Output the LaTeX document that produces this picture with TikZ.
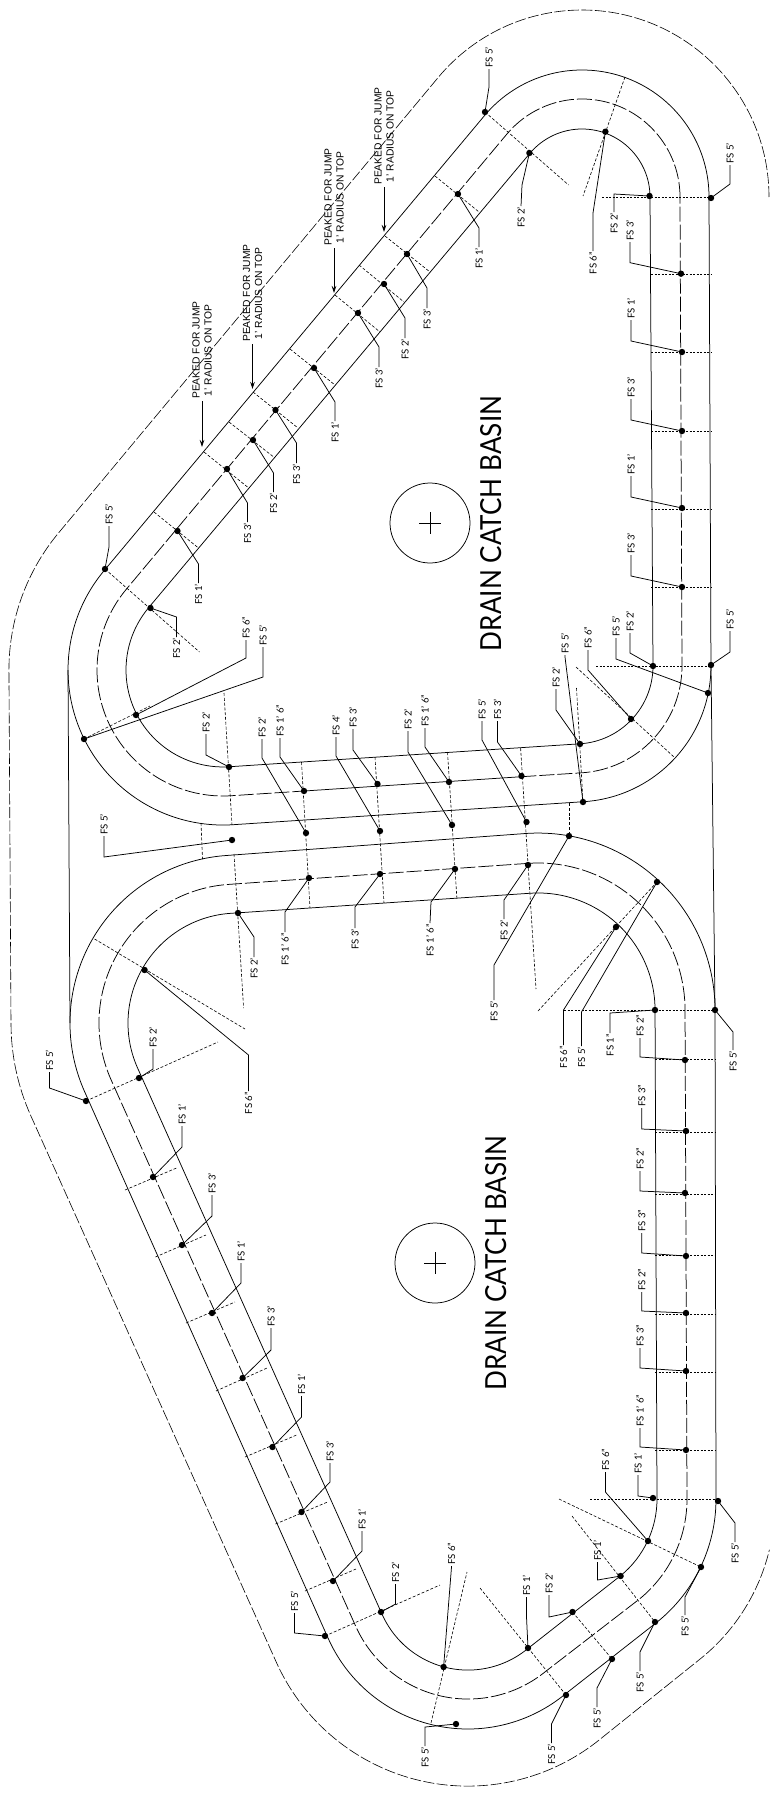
\documentclass[tikz,border=0pt]{standalone}
\usepackage{fontspec}
\setmainfont{Lato}
\newfontfamily\arialf{Liberation Sans}
\newfontfamily\titlef[FakeStretch=0.9]{Lato}
\usetikzlibrary{arrows.meta}
\newcount\ldn
\tikzset{
 trk/.style={line width=0.75pt,black},
 middash/.style={line width=0.75pt,black,dash pattern=on 15pt off 3pt},
 bound/.style={line width=0.6pt,black,dash pattern=on 11pt off 2.5pt},
 sec/.style={line width=0.6pt,black,dash pattern=on 3pt off 1.8pt},
 sech/.style={line width=0.8pt,black,dash pattern=on 2.2pt off 1.3pt},
 lead/.style={line width=0.75pt,black},
 fsdot/.style={circle,fill=black,inner sep=0pt,minimum size=6.4pt},
 fslab/.style={rotate=90,inner sep=1pt,font=\fontsize{9.6}{11}\selectfont},
 peak/.style={rotate=90,anchor=west,align=center,inner sep=2pt,font=\arialf\fontsize{10.3}{12}\selectfont},
 title/.style={rotate=90,inner sep=0pt,font=\titlef\fontsize{29}{31}\selectfont},
 pit/.style={circle,draw=black,line width=0.75pt,minimum size=80pt,inner sep=0pt},
 jump/.style={line width=0.75pt,black,-{Stealth[length=7pt,width=4.5pt]}},
}
% dot; bend; stub end; text. text below the stub end
\newcommand\fsdn[4]{\global\advance\ldn by 1
 \node[fsdot] (d\the\ldn) at (#1) {};
 \node[fslab,anchor=east] (t\the\ldn) at (#3) {#4};
 \draw[lead] (d\the\ldn.center) -- (#2) -- (t\the\ldn.east);}
% text above the stub end
\newcommand\fsup[4]{\global\advance\ldn by 1
 \node[fsdot] (d\the\ldn) at (#1) {};
 \node[fslab,anchor=west] (t\the\ldn) at (#3) {#4};
 \draw[lead] (d\the\ldn.center) -- (#2) -- (t\the\ldn.west);}
\begin{document}
\begin{tikzpicture}[x=1pt,y=1pt,yscale=-1]
\useasboundingbox (0,0) rectangle (769,1796);
% property boundary
\draw[bound] (769,197) arc[start angle=0,end angle=-140,radius=187pt] -- (59,532.4)
  arc[start angle=220,end angle=180,radius=214pt] -- (11,1023)
  arc[start angle=180,end angle=156,radius=227pt] -- (276,1661.5)
  arc[start angle=156,end angle=50.7,radius=210pt] -- (701.6,1657.8)
  arc[start angle=50.7,end angle=13.5,radius=200pt];
% upper track
\draw[trk] (709,197) arc[start angle=0,end angle=-140,radius=127pt] -- (104.3,570.4)
  arc[start angle=220,end angle=86.4,radius=155pt] -- (583.5,801.7)
  arc[start angle=86.4,end angle=0,radius=136pt] -- cycle;
\draw[middash] (680,197) arc[start angle=0,end angle=-140,radius=98pt] -- (126.5,589)
  arc[start angle=220,end angle=86.4,radius=126pt] -- (304,791);
\draw[trk] (304,791) -- (521.5,776.7);
\draw[middash] (521.5,776.7) -- (581.7,772.8)
  arc[start angle=86.4,end angle=0,radius=107pt] -- (680,197);
\draw[trk] (650,197) arc[start angle=0,end angle=-140,radius=68pt] -- (148.7,607.6)
  arc[start angle=220,end angle=86.4,radius=97pt] -- (579.9,743.8)
  arc[start angle=86.4,end angle=0,radius=78pt] -- cycle;
% lower track
\draw[trk] (526.9,833.4) arc[start angle=266.4,end angle=360,radius=177pt] -- (716,1499)
  arc[start angle=0,end angle=50.7,radius=158pt] -- (564.8,1694.4)
  arc[start angle=50.7,end angle=156,radius=153pt] -- (84.5,1091.4)
  arc[start angle=156,end angle=266.4,radius=168pt] -- cycle;
\draw[middash] (528.8,863.3) arc[start angle=266.4,end angle=360,radius=147pt] -- (687,1499)
  arc[start angle=0,end angle=50.7,radius=129pt] -- (545.9,1671.2)
  arc[start angle=50.7,end angle=156,radius=123pt] -- (111,1079.6)
  arc[start angle=156,end angle=266.4,radius=139pt] -- cycle;
\draw[trk] (530.7,893.2) arc[start angle=266.4,end angle=360,radius=117pt] -- (657,1499)
  arc[start angle=0,end angle=50.7,radius=99pt] -- (527.5,1648.8)
  arc[start angle=50.7,end angle=156,radius=94pt] -- (137.5,1067.8)
  arc[start angle=156,end angle=266.4,radius=110pt] -- cycle;
% joining lines
\draw[trk] (68,670) -- (70,1023);
\draw[trk] (711,666) -- (715,1010);
% section lines, upper track
\draw[sec] (485,112) -- (568.6,185);
\draw[sec] (625,77) -- (583,196);
\draw[sec] (435,176) -- (479,212);
\draw[sec] (385,236) -- (430,272);
\draw[sec] (359,265) -- (404,302);
\draw[sec] (335,295) -- (380,332);
\draw[sec] (290,349) -- (335,385);
\draw[sec] (253,392) -- (298,428);
\draw[sec] (229,422) -- (275,458);
\draw[sec] (204,452) -- (247.5,487);
\draw[sec] (154,512) -- (198.5,548);
\draw[sec] (105,569) -- (199.5,652);
\draw[sec] (84,739) -- (150,706);
\draw[sec] (224,693) -- (232,825);
\draw[sec] (234,854) -- (243.6,1008);
\draw[sec] (201,823) -- (202.5,859);
\draw[sec] (301.5,762) -- (310,908);
\draw[sec] (375,757) -- (384,903);
\draw[sec] (447.5,752) -- (457,900);
\draw[sec] (520.6,748) -- (536,989);
\draw[sec] (576.5,688) -- (583,802);
\draw[sec] (569,803) -- (569,836);
\draw[sec] (576,667) -- (674,757);
\foreach \yy/\xa in {197/602,274/651,352/651,431/651,509/651,587/651,666/596}
  \draw[sech] (\xa,\yy) -- (711,\yy);
% section lines, lower track
\foreach \yy/\xa in {1010/564,1059/655,1132/655,1194/655,1255/655,1314/655,1372/655,1450/655,1499/590}
  \draw[sech] (\xa,\yy) -- (716,\yy);
\draw[sec] (538,1011) -- (657,882);
\draw[sec] (94.6,939) -- (245,1029);
\draw[sec] (86,1101) -- (218,1042);
\draw[sec] (125,1190) -- (176.5,1168);
\draw[sec] (155.4,1257) -- (206,1235);
\draw[sec] (186,1323) -- (235,1302);
\draw[sec] (216,1391) -- (267,1368);
\draw[sec] (245,1457) -- (296.6,1435);
\draw[sec] (275.5,1524) -- (327.5,1502);
\draw[sec] (305,1591) -- (356,1569);
\draw[sec] (325,1636) -- (440,1585);
\draw[sec] (431,1723) -- (467,1572);
\draw[sec] (480,1588) -- (566,1695);
\draw[sec] (572,1516) -- (655,1622);
\draw[sec] (559,1499) -- (701,1567);
\draw[sec] (572.5,1612) -- (612,1659);
% drain basins
\node[pit] (pitA) at (430,523) {};
\draw[lead] (419,523) -- (441,523) (430,512) -- (430,534);
\node[pit] (pitB) at (435,1263) {};
\draw[lead] (424,1263) -- (446,1263) (435,1252) -- (435,1274);
\node[title] (titleA) at (491,523.5) {DRAIN CATCH BASIN};
\node[title] (titleB) at (496,1263) {DRAIN CATCH BASIN};
% peaked notes
\coordinate (tipA) at (384,232);
\coordinate (tipB) at (334,293);
\coordinate (tipC) at (252.5,389);
\coordinate (tipD) at (202,447);
\node[peak] (pkA) at (384,187) {PEAKED FOR JUMP\\1’ RADIUS ON TOP};
\node[peak] (pkB) at (334,248) {PEAKED FOR JUMP\\1’ RADIUS ON TOP};
\node[peak] (pkC) at (252.5,344) {PEAKED FOR JUMP\\1’ RADIUS ON TOP};
\node[peak] (pkD) at (202,401) {PEAKED FOR JUMP\\1’ RADIUS ON TOP};
\draw[jump] (pkA.west) -- (tipA);
\draw[jump] (pkB.west) -- (tipB);
\draw[jump] (pkC.west) -- (tipC);
\draw[jump] (pkD.west) -- (tipD);
% leaders upper track
\fsup{485,112}{489,87}{489,69}{FS 5’}
\fsdn{529.4,153}{522,185}{521,206}{FS 2’}
\fsdn{605.4,131.7}{593,213}{593,251}{FS 6”}
\fsdn{649.5,196}{614,194}{614,212}{FS 2’}
\fsup{681,273.7}{630,262.7}{630,242}{FS 3’}
\fsup{711,198}{730,184}{730,165}{FS 5’}
\fsup{682,352}{631,341}{631,320}{FS 1’}
\fsup{682,431}{631,420}{631,399}{FS 3’}
\fsup{682,508}{631,497}{631,476}{FS 1’}
\fsup{682,587}{631,576}{631,555}{FS 3’}
\fsdn{458,194}{479,228}{479,247}{FS 1’}
\fsdn{407,254}{427,288}{427,308}{FS 3’}
\fsdn{384,284}{405,318}{405,338}{FS 2’}
\fsdn{358,313}{379,347}{379,367}{FS 3’}
\fsdn{314,368}{335,402}{335,421}{FS 1’}
\fsdn{275.5,410}{296.5,443}{296.5,463}{FS 3’}
\fsdn{253,440}{273.5,473}{273.5,492}{FS 2’}
\fsdn{227,469}{247.5,503}{247.5,522}{FS 3’}
\fsdn{177.5,531}{198.5,564}{198.5,583}{FS 1’}
\fsup{105,569}{109,547}{109,526}{FS 5’}
\fsdn{150.5,608}{176.5,617}{176.5,637}{FS 2’}
\fsup{136,715}{246,658}{246,640}{FS 6”}
\fsup{84,739}{263,677}{263,647}{FS 5’}
\fsup{229,767}{206,755}{206,734}{FS 2’}
\fsup{306,833}{262,758}{262,739}{FS 2’}
\fsup{304,791}{280,757}{280,738}{FS 1’ 6”}
\fsup{380,831}{336,756}{336,737}{FS 4’}
\fsup{377.5,784}{353,750}{353,729}{FS 3’}
\fsup{452,825}{408,752}{408,731}{FS 2’}
\fsup{449,782}{425,747}{425,728}{FS 1’ 6”}
\fsup{526.5,822}{482,740}{482,721}{FS 5’}
\fsup{521.5,776}{497.5,742}{497.5,721}{FS 3’}
\fsup{580,744}{556,710}{556,689}{FS 2’}
\fsup{583,802}{565,657}{565,655}{FS 5’}
\fsup{631,719}{588,670}{588,650}{FS 6”}
\fsup{708,693}{616,659}{616,638}{FS 5’}
\fsup{653,666}{630,653}{630,633}{FS 2’}
\fsup{711,665}{730,652}{730,631}{FS 5’}
\fsup{232,840}{104,857}{104,836}{FS 5’}
% leaders lower track
\fsdn{309,878}{285,912}{285,932}{FS 1’ 6”}
\fsdn{380,874}{355,907}{355,928}{FS 3’}
\fsdn{455,869}{431,902}{430,923}{FS 1’ 6”}
\fsdn{528,865}{504,900}{504,919}{FS 2’}
\fsdn{569,836}{494,965}{494,1000}{FS 5’}
\fsdn{238,913}{254,937}{254,957}{FS 2’}
\fsdn{144.6,970}{248.5,1055}{248.5,1091}{FS 6”}
\fsup{139,1078}{153,1069}{153,1049}{FS 2’}
\fsup{86,1101}{49.5,1088}{49.5,1072}{FS 5’}
\fsup{153,1177}{182,1147}{182,1126}{FS 1’}
\fsup{182,1245}{212,1216}{212,1195}{FS 3’}
\fsup{212,1313}{241,1283}{241,1263}{FS 1’}
\fsup{242.6,1378}{271,1350}{271,1328}{FS 3’}
\fsup{272.5,1447}{301.5,1417}{301.5,1396}{FS 1’}
\fsup{301.5,1512}{330,1482}{330,1463}{FS 3’}
\fsup{333,1581}{362,1551}{362,1531}{FS 1’}
\fsup{381,1612}{395.6,1604}{395.6,1584}{FS 2’}
\fsup{325,1636}{294.6,1633}{294.6,1613}{FS 5’}
\fsup{443.6,1667}{451.5,1567}{451.5,1566}{FS 6”}
\fsdn{456,1724}{425,1727}{425,1746}{FS 5’}
\fsup{528,1648}{526.5,1617}{526.5,1597}{FS 1’}
\fsup{572.5,1612}{549,1617}{549,1595}{FS 2’}
\fsup{620.6,1576}{597.5,1580}{597.5,1562}{FS 1’}
\fsup{648,1541}{605.4,1492}{605.4,1472}{FS 6”}
\fsup{653,1498}{638,1496}{638,1475}{FS 1’}
\fsup{686,1450}{640,1447}{640,1428}{FS 1’ 6”}
\fsdn{718,1501}{735,1523}{735,1542}{FS 5’}
\fsdn{701,1567}{685,1597}{685,1615}{FS 5’}
\fsdn{655,1622}{640,1652}{640,1671}{FS 5’}
\fsdn{612,1659}{597,1688}{597,1707}{FS 5’}
\fsdn{566,1695}{551.5,1724}{551.5,1743}{FS 5’}
\fsdn{715,1010}{733,1032}{733,1050}{FS 5’}
\fsup{685,1060}{640,1057}{640,1038}{FS 2”}
\fsup{686,1131}{641.7,1129}{641.7,1108}{FS 3”}
\fsup{685,1193}{640,1191}{640,1171}{FS 2”}
\fsup{686,1256}{641.7,1253}{641.7,1233}{FS 3”}
\fsup{686,1313}{641.7,1311}{641.7,1292}{FS 2”}
\fsup{686,1371}{640,1368}{640,1348}{FS 3”}
\fsdn{655,1010}{610,1013}{610,1033}{FS 1”}
\fsdn{657,882}{581.5,1012}{581.5,1046}{FS 5’}
\fsdn{616,927}{563.5,1010}{563.5,1045}{FS 6”}
\end{tikzpicture}
\end{document}
